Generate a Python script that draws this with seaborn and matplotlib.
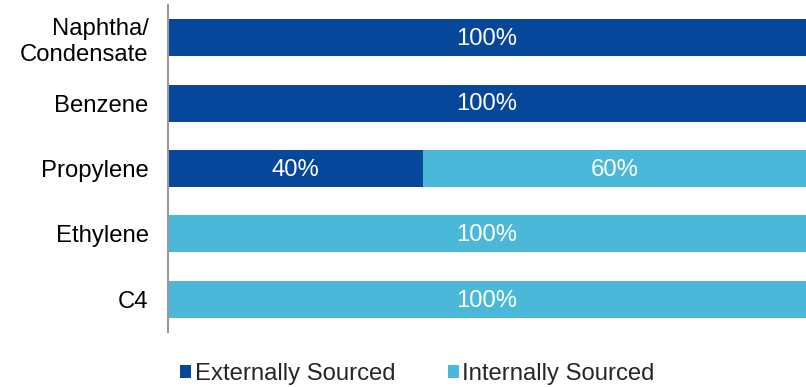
import matplotlib
matplotlib.use("Agg")
import matplotlib.pyplot as plt
import seaborn as sns
import pandas as pd
from matplotlib.patches import Patch

categories = ["Naphtha/\nCondensate", "Benzene", "Propylene", "Ethylene", "C4"]
externally = [100, 100, 40, 0, 0]
internally = [0, 0, 60, 100, 100]
series_names = ["Externally Sourced", "Internally Sourced"]

dark = "#06479B"
light = "#4BB8DA"

sns.set_theme(style="white")
plt.rcParams["font.family"] = ["Liberation Sans", "DejaVu Sans"]

FS = 17.2

df = pd.DataFrame({"cat": categories, "ext": externally, "int": internally})
df["total"] = df["ext"] + df["int"]

fig = plt.figure(figsize=(8.06, 3.87), dpi=100)
ax = fig.add_axes([168 / 806, 55 / 387, 1 - 168 / 806, 327 / 387])

sns.barplot(data=df, y="cat", x="total", color=light, orient="h",
            width=0.565, ax=ax, saturation=1, linewidth=0)
sns.barplot(data=df, y="cat", x="ext", color=dark, orient="h",
            width=0.565, ax=ax, saturation=1, linewidth=0)

for i, (e, n) in enumerate(zip(externally, internally)):
    if e > 0:
        ax.text(e / 2, i + 0.02, f"{e}%", ha="center", va="center",
                color="white", fontsize=FS)
    if n > 0:
        ax.text(e + n / 2, i + 0.02, f"{n}%", ha="center", va="center",
                color="white", fontsize=FS)

ax.set_xlim(0, 100)
ax.set_ylim(4.5, -0.5)
ax.set_xlabel("")
ax.set_ylabel("")
ax.set_xticks([])
ax.tick_params(axis="y", length=0, pad=14, labelsize=FS, labelcolor="black")
for s in ["top", "right", "bottom"]:
    ax.spines[s].set_visible(False)
ax.spines["left"].set_color("#999999")
ax.spines["left"].set_linewidth(1.5)

handles = [Patch(facecolor=dark, edgecolor="none"),
           Patch(facecolor=light, edgecolor="none")]
fig.legend(handles, series_names, loc="center", bbox_to_anchor=(0.518, 0.034),
           ncol=2, frameon=False, fontsize=FS, handlelength=0.45,
           handleheight=0.45, handletextpad=0.15, columnspacing=2.2,
           borderpad=0, borderaxespad=0)

fig.savefig("out.png", dpi=100)
